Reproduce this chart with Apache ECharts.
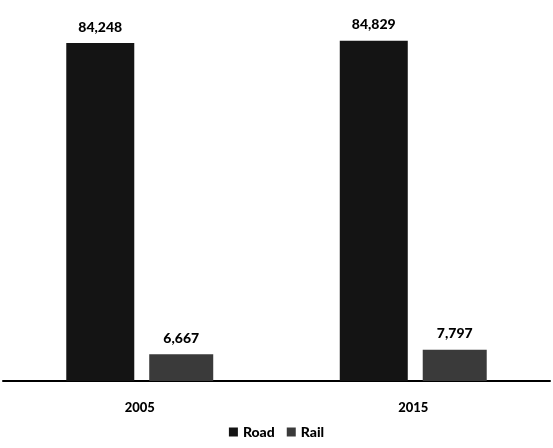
<!DOCTYPE html>
<html><head><meta charset="utf-8">
<script src="https://cdn.jsdelivr.net/npm/echarts@6/dist/echarts.min.js"></script>
<style>html,body{margin:0;padding:0;background:#fff}#c{width:553px;height:448px}</style>
</head><body><div id="c"></div>
<script>
const categories = ['2005', '2015'];
const roadValues = [84248, 84829];
const railValues = [6667, 7797];
const seriesNames = ['Road', 'Rail'];

const chart = echarts.init(document.getElementById('c'));
const fmt = v => v.toLocaleString('en-US');
const labelStyle = {show: true, position: 'top', distance: 9, fontFamily: 'Lato', fontWeight: 900, fontSize: 14, color: '#000', formatter: p => fmt(p.value)};
chart.setOption({
  animation: false,
  textStyle: {fontFamily: 'Lato'},
  grid: {left: 3, right: 3, top: 20, bottom: 67},
  legend: {bottom: 4, left: 'center', icon: 'rect', itemWidth: 9, itemHeight: 9, itemGap: 12,
    textStyle: {fontFamily: 'Lato', fontWeight: 900, fontSize: 14, color: '#000'},
    data: seriesNames},
  xAxis: {type: 'category', data: categories,
    axisLine: {lineStyle: {color: '#000', width: 2}}, axisTick: {show: false},
    axisLabel: {margin: 20, fontFamily: 'Lato', fontWeight: 900, fontSize: 13, color: '#000'}},
  yAxis: {type: 'value', min: 0, max: 90000, show: false, splitLine: {show: false}},
  series: [
    {name: seriesNames[0], type: 'bar', data: roadValues, barWidth: 68, barGap: '22%',
     itemStyle: {color: '#141414'}, label: labelStyle},
    {name: seriesNames[1], type: 'bar', data: railValues, barWidth: 64,
     itemStyle: {color: '#3a3a3a'}, label: labelStyle}
  ]
});
</script></body></html>
